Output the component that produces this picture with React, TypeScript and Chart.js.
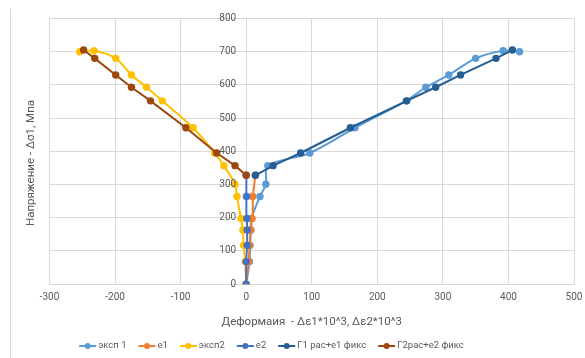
import React, { useEffect, useRef } from "react";
import { Chart, registerables } from "chart.js";

Chart.register(...registerables);

const seriesNames = ["эксп 1", "e1", "эксп2", "e2", "Г1 рас+e1 фикс", "Г2рас+e2 фикс"];
const seriesColors = ["#5B9BD5", "#ED7D31", "#FFC000", "#4472C4", "#255E91", "#9E480E"];

const exp1X = [0, 5, 6, 7, 8, 21, 30, 33, 97, 166, 244, 274, 309, 350, 392, 417];
const exp1Y = [0, 68, 117, 163, 198, 264, 301, 357, 395, 471, 552, 593, 630, 680, 703, 700];

const e1X = [0, 4, 5, 7, 9, 10, 14];
const e1Y = [0, 68, 117, 163, 198, 264, 328];

const exp2X = [0, -1.5, -4, -5, -8, -14, -17, -34, -48, -81, -128, -152, -175, -199, -232, -254];
const exp2Y = [0, 68, 117, 163, 198, 264, 301, 357, 395, 471, 552, 593, 630, 680, 703, 700];

const e2X = [0, 0, 1.5, 1.5, 1, 0.5, 0];
const e2Y = [0, 68, 117, 163, 198, 264, 328];

const g1X = [14, 41, 83, 159, 245, 289, 327, 381, 406];
const g1Y = [328, 357, 395, 471, 552, 593, 630, 680, 705];

const g2X = [0, -17, -45, -92, -146, -175, -199, -231, -248];
const g2Y = [328, 357, 395, 471, 552, 593, 630, 680, 705];

const xTitle = "Деформаия  - Δε1*10^3, Δε2*10^3";
const yTitle = "Напряжение - Δσ1, Мпа";

const FONT = "Roboto, 'Noto Sans', sans-serif";
const TEXT = "#595959";
const GRID = "#D9D9D9";

function pts(xs: number[], ys: number[]) {
  return xs.map((x, i) => ({ x, y: ys[i] }));
}

const extras = {
  id: "extras",
  afterDraw(chart: any) {
    const ctx = chart.ctx as CanvasRenderingContext2D;
    const ys = chart.scales.y;
    const xs = chart.scales.x;

    // y tick labels next to the axis at x = 0
    ctx.save();
    ctx.fillStyle = TEXT;
    ctx.font = `10px ${FONT}`;
    ctx.textAlign = "right";
    ctx.textBaseline = "middle";
    const axisX = xs.getPixelForValue(0);
    ys.ticks.forEach((t: any) => {
      ctx.fillText(String(t.value), axisX - 10, ys.getPixelForValue(t.value));
    });
    ctx.restore();

    // y title
    ctx.save();
    ctx.fillStyle = TEXT;
    ctx.font = `11.5px ${FONT}`;
    ctx.textAlign = "center";
    ctx.textBaseline = "middle";
    ctx.translate(31, 163);
    ctx.rotate(-Math.PI / 2);
    ctx.fillText(yTitle, 0, 0);
    ctx.restore();

    // legend
    ctx.save();
    ctx.font = `9.5px ${FONT}`;
    ctx.textBaseline = "middle";
    ctx.textAlign = "left";
    const lineW = 17;
    const gapText = 2;
    const gapItem = 12;
    const widths = seriesNames.map((n) => ctx.measureText(n).width);
    let total = 0;
    widths.forEach((w, i) => {
      total += lineW + gapText + w + (i < widths.length - 1 ? gapItem : 0);
    });
    let x = 271.5 - total / 2;
    const y = 346;
    seriesNames.forEach((n, i) => {
      ctx.strokeStyle = seriesColors[i];
      ctx.lineWidth = 2;
      ctx.beginPath();
      ctx.moveTo(x, y);
      ctx.lineTo(x + lineW, y);
      ctx.stroke();
      ctx.fillStyle = seriesColors[i];
      ctx.beginPath();
      ctx.arc(x + lineW / 2, y, 3, 0, Math.PI * 2);
      ctx.fill();
      ctx.fillStyle = TEXT;
      ctx.fillText(n, x + lineW + gapText, y);
      x += lineW + gapText + widths[i] + gapItem;
    });
    ctx.restore();

    // frame line at left
    ctx.save();
    ctx.strokeStyle = GRID;
    ctx.lineWidth = 1;
    ctx.beginPath();
    ctx.moveTo(10.5, 9);
    ctx.lineTo(10.5, 358);
    ctx.stroke();
    ctx.restore();
  },
};

export default function App() {
  const ref = useRef<HTMLCanvasElement>(null);
  useEffect(() => {
    const all = [
      pts(exp1X, exp1Y),
      pts(e1X, e1Y),
      pts(exp2X, exp2Y),
      pts(e2X, e2Y),
      pts(g1X, g1Y),
      pts(g2X, g2Y),
    ];
    const smooth = [0.3, 0, 0.3, 0, 0, 0];
    const chart = new Chart(ref.current as HTMLCanvasElement, {
      type: "scatter",
      data: {
        datasets: all.map((d, i) => ({
          label: seriesNames[i],
          data: d,
          showLine: true,
          borderColor: seriesColors[i],
          backgroundColor: seriesColors[i],
          borderWidth: 2,
          pointRadius: 3.7,
          pointBorderWidth: 0,
          tension: smooth[i],
          order: all.length - i,
        })),
      },
      options: {
        animation: false,
        responsive: false,
        maintainAspectRatio: false,
        layout: { padding: { left: 49.5, right: 16, top: 18.5, bottom: 29 } },
        plugins: {
          legend: { display: false },
          tooltip: { enabled: false },
        },
        scales: {
          x: {
            type: "linear",
            position: "bottom",
            min: -300,
            max: 500,
            ticks: { stepSize: 100, color: TEXT, font: { family: FONT, size: 10 }, padding: 7 },
            grid: { color: GRID, drawTicks: false },
            border: { color: GRID },
            title: {
              display: true,
              text: xTitle,
              color: TEXT,
              font: { family: FONT, size: 11.5 },
              padding: { top: 5, bottom: 0 },
            },
          },
          y: {
            type: "linear",
            position: { x: 0 } as any,
            min: 0,
            max: 800,
            ticks: { stepSize: 100, display: false },
            grid: { color: GRID, drawTicks: false },
            border: { color: GRID },
          },
        },
      },
      plugins: [extras],
    });
    return () => chart.destroy();
  }, []);
  return (
    <div style={{ position: "fixed", left: 0, top: 0, width: 585, height: 358, overflow: "hidden", background: "#fff" }}>
      <canvas ref={ref} width={590} height={358} style={{ width: 590, height: 358, display: "block" }} />
    </div>
  );
}
